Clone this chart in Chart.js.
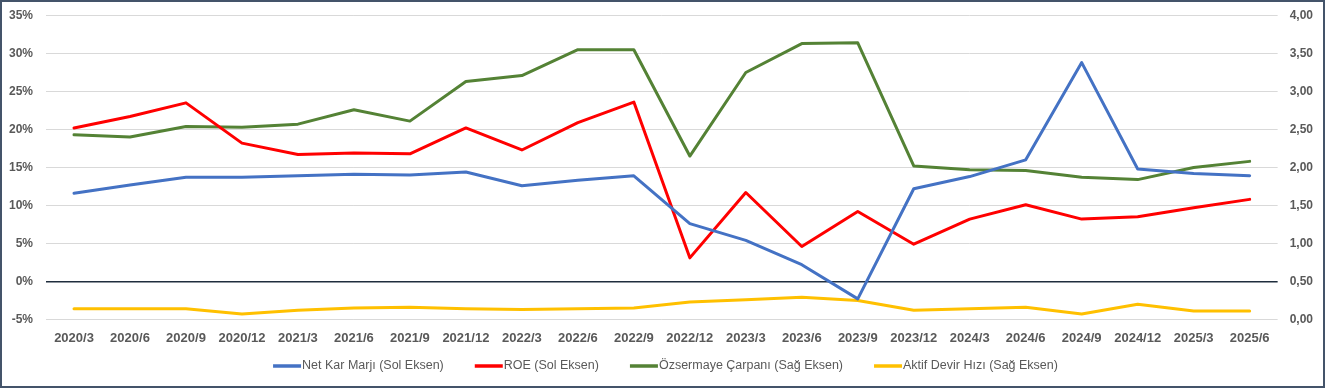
<!DOCTYPE html>
<html lang="tr">
<head>
    <meta charset="UTF-8">
    <title>Rasyolar</title>
    <style>
        html, body { margin: 0; padding: 0; background: #fff; }
        #frame {
            width: 1325px; height: 388px; box-sizing: border-box;
            border: 2px solid #44546a; background: #fff;
        }
        #wrap { position: relative; width: 1321px; height: 384px; }
    </style>
</head>
<body>
    <div id="frame"><div id="wrap"><canvas id="ratioChart"></canvas></div></div>
    <script src="https://cdn.jsdelivr.net/npm/chart.js"></script>
    <script>
        // Quarters
        const labels = ['2020/3', '2020/6', '2020/9', '2020/12', '2021/3', '2021/6', '2021/9', '2021/12',
            '2022/3', '2022/6', '2022/9', '2022/12', '2023/3', '2023/6', '2023/9', '2023/12',
            '2024/3', '2024/6', '2024/9', '2024/12', '2025/3', '2025/6'];

        // Left axis (%)
        const netKarMarji = [11.6, 12.7, 13.7, 13.7, 13.9, 14.1, 14.0, 14.4, 12.6, 13.3, 13.9, 7.6,
            5.4, 2.2, -2.3, 12.2, 13.8, 16.0, 28.8, 14.8, 14.2, 13.9];
        const roe = [20.2, 21.7, 23.5, 18.2, 16.7, 16.9, 16.8, 20.2, 17.3, 20.9, 23.6, 3.1,
            11.7, 4.6, 9.2, 4.9, 8.2, 10.1, 8.2, 8.5, 9.7, 10.8];

        // Right axis (x)
        const ozsermayeCarpani = [2.43, 2.40, 2.54, 2.53, 2.57, 2.76, 2.61, 3.13, 3.21, 3.55, 3.55, 2.15,
            3.25, 3.63, 3.64, 2.02, 1.97, 1.96, 1.87, 1.84, 2.00, 2.08];
        const aktifDevirHizi = [0.14, 0.14, 0.14, 0.07, 0.12, 0.15, 0.16, 0.14, 0.13, 0.14, 0.15, 0.23,
            0.26, 0.29, 0.25, 0.12, 0.14, 0.16, 0.07, 0.20, 0.11, 0.11];

        const leftTicks = { min: -5, max: 35, step: 5 };
        const rightTicks = { min: 0, max: 4, step: 0.5 };

        const tickColor = '#595959';
        const gridColor = '#d9d9d9';
        const fontFamily = 'Liberation Sans';

        function lineSet(label, data, color, axis) {
            return {
                label: label,
                data: data,
                borderColor: color,
                backgroundColor: color,
                borderWidth: 3,
                pointRadius: 0,
                tension: 0,
                fill: false,
                borderJoinStyle: 'round',
                borderCapStyle: 'round',
                yAxisID: axis
            };
        }

        // Chart.js puts the tick padding on both sides of the labels and
        // also above/below the axes; keep only the gap next to the plot
        function tightAxis(scale) {
            const pad = scale.options.ticks.padding;
            scale.paddingTop = 0;
            scale.paddingBottom = 0;
            scale.paddingLeft = 0;
            scale.paddingRight = 0;
            if (scale.isHorizontal()) scale.height -= pad;
            else scale.width -= pad;
        }

        // Excel-style legend: short line + label, centred under the chart
        const bottomLegend = {
            id: 'bottomLegend',
            afterDraw(chart) {
                const c = chart.ctx;
                const lineLen = 28, gap = 1, spacing = 31;
                c.save();
                c.font = '12.5px "' + fontFamily + '"';
                c.textBaseline = 'middle';
                const items = chart.data.datasets.map(d => ({
                    label: d.label,
                    color: d.borderColor,
                    w: lineLen + gap + c.measureText(d.label).width
                }));
                const total = items.reduce((s, i) => s + i.w, 0) + spacing * (items.length - 1);
                let x = (chart.width - total) / 2 + 3;
                const y = chart.height - 20;
                items.forEach(i => {
                    c.strokeStyle = i.color;
                    c.lineWidth = 3.5;
                    c.beginPath();
                    c.moveTo(x, y);
                    c.lineTo(x + lineLen, y);
                    c.stroke();
                    c.fillStyle = tickColor;
                    c.fillText(i.label, x + lineLen + gap, y);
                    x += i.w + spacing;
                });
                c.restore();
            }
        };

        const ctx = document.getElementById('ratioChart').getContext('2d');
        new Chart(ctx, {
            type: 'line',
            data: {
                labels: labels,
                datasets: [
                    lineSet('Net Kar Marjı (Sol Eksen)', netKarMarji, '#4472c4', 'yLeft'),
                    lineSet('ROE (Sol Eksen)', roe, '#ff0000', 'yLeft'),
                    lineSet('Özsermaye Çarpanı (Sağ Eksen)', ozsermayeCarpani, '#548235', 'yRight'),
                    lineSet('Aktif Devir Hızı (Sağ Eksen)', aktifDevirHizi, '#ffc000', 'yRight')
                ]
            },
            plugins: [bottomLegend],
            options: {
                responsive: true,
                maintainAspectRatio: false,
                animation: false,
                layout: { autoPadding: false, padding: { top: 13.5, left: 7, right: 10, bottom: 40 } },
                plugins: {
                    tooltip: { enabled: false },
                    legend: { display: false }
                },
                scales: {
                    x: {
                        offset: true,
                        grid: { display: false, drawTicks: false },
                        border: { display: false },
                        afterFit: tightAxis,
                        ticks: {
                            color: tickColor,
                            font: { family: fontFamily, size: 13, weight: 'bold' },
                            maxRotation: 0,
                            autoSkip: false,
                            padding: 11
                        }
                    },
                    yLeft: {
                        position: 'left',
                        min: leftTicks.min,
                        max: leftTicks.max,
                        border: { display: false },
                        afterFit: tightAxis,
                        grid: {
                            color: c => c.tick.value === 0 ? '#1f2d3d' : gridColor,
                            lineWidth: c => c.tick.value === 0 ? 1.5 : 1,
                            drawTicks: false
                        },
                        ticks: {
                            stepSize: leftTicks.step,
                            color: tickColor,
                            font: { family: fontFamily, size: 12, weight: 'bold' },
                            padding: 13,
                            callback: v => v + '%'
                        }
                    },
                    yRight: {
                        position: 'right',
                        min: rightTicks.min,
                        max: rightTicks.max,
                        border: { display: false },
                        afterFit: tightAxis,
                        grid: { drawOnChartArea: false, drawTicks: false },
                        ticks: {
                            stepSize: rightTicks.step,
                            color: tickColor,
                            font: { family: fontFamily, size: 12, weight: 'bold' },
                            padding: 12,
                            callback: v => v.toFixed(2).replace('.', ',')
                        }
                    }
                }
            }
        });
    </script>
</body>
</html>
